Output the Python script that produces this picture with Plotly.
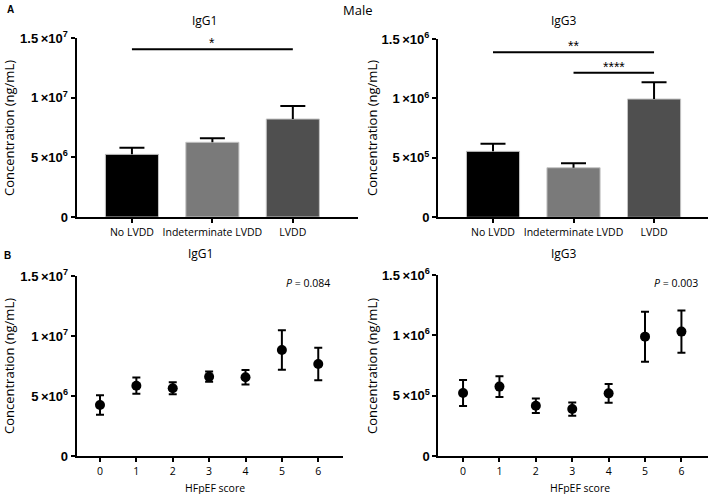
import plotly.graph_objects as go

W, H = 709, 494

# ---------------- data ----------------
groups = ["No LVDD", "Indeterminate LVDD", "LVDD"]
bar_colors = ["#000000", "#7a7a7a", "#4f4f4f"]
igg1_bar = [5.25e6, 6.26e6, 8.21e6]
igg1_bar_err = [0.56e6, 0.33e6, 1.09e6]
igg3_bar = [5.55e5, 4.17e5, 9.95e5]
igg3_bar_err = [0.64e5, 0.37e5, 1.41e5]

# significance comparisons: (from index, to index, level, label)
igg1_sig = [(0, 2, 1.405e7, "*")]
igg3_sig = [(0, 2, 1.388e6, "**"), (1, 2, 1.216e6, "****")]

scores = [0, 1, 2, 3, 4, 5, 6]
igg1_score = [4.25e6, 5.86e6, 5.64e6, 6.61e6, 6.56e6, 8.83e6, 7.67e6]
igg1_score_err = [0.82e6, 0.68e6, 0.50e6, 0.43e6, 0.61e6, 1.65e6, 1.35e6]
igg3_score = [5.22e5, 5.75e5, 4.17e5, 3.89e5, 5.19e5, 9.89e5, 1.031e6]
igg3_score_err = [1.07e5, 0.86e5, 0.60e5, 0.55e5, 0.78e5, 2.07e5, 1.75e5]

ticks7 = [0, 5e6, 1e7, 1.5e7]
ticks7_text = ["<b>0</b>", "<b>5\u2009×10<sup>6</sup></b>", "<b>1\u2009×10<sup>7</sup></b>", "<b>1.5\u2009×10<sup>7</sup></b>"]
ticks6 = [0, 5e5, 1e6, 1.5e6]
ticks6_text = ["<b>0</b>", "<b>5\u2009×10<sup>5</sup></b>", "<b>1\u2009×10<sup>6</sup></b>", "<b>1.5\u2009×10<sup>6</sup></b>"]

# ---------------- figure ----------------
fig = go.Figure()

def px_x(v):
    return v / W

def px_y(v):
    return 1 - v / H

TXT = "Open Sans"
TICKF = dict(family="Liberation Sans", size=13, color="black")


def add_bars(xa, ya, vals, errs):
    idx = list(range(len(vals)))
    fig.add_trace(go.Bar(x=idx, y=vals, width=0.66, xaxis=xa, yaxis=ya,
                         marker=dict(color=bar_colors, line=dict(color="#c4c4c4", width=1)),
                         showlegend=False))
    # error stems (upward only)
    fig.add_trace(go.Scatter(x=idx, y=[v + e / 2 for v, e in zip(vals, errs)], mode="none",
                             xaxis=xa, yaxis=ya, showlegend=False,
                             error_y=dict(type="data", array=[e / 2 for e in errs], symmetric=True,
                                          width=0, thickness=2, color="black")))
    # caps
    fig.add_trace(go.Scatter(x=idx, y=[v + e for v, e in zip(vals, errs)], mode="none",
                             xaxis=xa, yaxis=ya, showlegend=False,
                             error_y=dict(type="data", array=[0] * len(vals), symmetric=True,
                                          width=12.5, thickness=2, color="black")))


def add_points(xa, ya, vals, errs):
    fig.add_trace(go.Scatter(x=scores, y=vals, mode="markers", xaxis=xa, yaxis=ya,
                             marker=dict(color="black", size=10), showlegend=False,
                             error_y=dict(type="data", array=errs, symmetric=True,
                                          width=4, thickness=2, color="black")))


add_bars("x", "y", igg1_bar, igg1_bar_err)
add_bars("x2", "y2", igg3_bar, igg3_bar_err)
add_points("x3", "y3", igg1_score, igg1_score_err)
add_points("x4", "y4", igg3_score, igg3_score_err)

shapes = []
annotations = []
for xref, yref, sigs in [("x", "y", igg1_sig), ("x2", "y2", igg3_sig)]:
    for a, b, lvl, lab in sigs:
        shapes.append(dict(type="line", xref=xref, yref=yref, x0=a, x1=b, y0=lvl, y1=lvl,
                           line=dict(color="black", width=2)))
        annotations.append(dict(xref=xref, yref=yref, x=(a + b) / 2, y=lvl, text=lab,
                                showarrow=False, yanchor="bottom", yshift=-4,
                                font=dict(family="Liberation Sans", size=14, color="black")))

common_x = dict(showline=True, linewidth=2, linecolor="black", ticks="outside", ticklen=4,
                tickwidth=2, tickcolor="black", showgrid=False, zeroline=False, automargin=False,
                tickfont=dict(family=TXT, size=10.5, color="black"))
common_y = dict(showline=True, linewidth=2, linecolor="black", ticks="outside", ticklen=4,
                tickwidth=2, tickcolor="black", showgrid=False, zeroline=False, automargin=False,
                tickfont=TICKF)

layout = dict(
    width=W, height=H, margin=dict(l=0, r=0, t=0, b=0, pad=0, autoexpand=False),
    paper_bgcolor="white", plot_bgcolor="white", showlegend=False,
    xaxis=dict(common_x, domain=[px_x(76.5), px_x(358)], range=[-0.689, 2.81],
               tickvals=[0, 1, 2], ticktext=groups, anchor="y"),
    yaxis=dict(common_y, domain=[px_y(217), px_y(38)], range=[0, 1.5e7],
               tickvals=ticks7, ticktext=ticks7_text, anchor="x"),
    xaxis2=dict(common_x, domain=[px_x(438), px_x(708)], range=[-0.683, 2.67],
                tickvals=[0, 1, 2], ticktext=groups, anchor="y2"),
    yaxis2=dict(common_y, domain=[px_y(217.3), px_y(39)], range=[0, 1.5e6],
                tickvals=ticks6, ticktext=ticks6_text, anchor="x2"),
    xaxis3=dict(common_x, domain=[px_x(76.7), px_x(343)], range=[-0.64, 6.68],
                tickvals=scores, ticktext=[str(s) for s in scores], anchor="y3"),
    yaxis3=dict(common_y, domain=[px_y(456), px_y(276)], range=[0, 1.5e7],
                tickvals=ticks7, ticktext=ticks7_text, anchor="x3"),
    xaxis4=dict(common_x, domain=[px_x(438.3), px_x(708)], range=[-0.68, 6.73],
                tickvals=scores, ticktext=[str(s) for s in scores], anchor="y4"),
    yaxis4=dict(common_y, domain=[px_y(456), px_y(275)], range=[0, 1.5e6],
                tickvals=ticks6, ticktext=ticks6_text, anchor="x4"),
)

def paper_text(x, y, text, size, **kw):
    d = dict(xref="paper", yref="paper", x=px_x(x), y=px_y(y), text=text, showarrow=False,
             xanchor=kw.pop("xanchor", "center"), yanchor=kw.pop("yanchor", "middle"),
             font=dict(family=kw.pop("family", TXT), size=size, color="black"))
    d.update(kw)
    annotations.append(d)

paper_text(358, 10, "Male", 13)
paper_text(10, 10, "<b>A</b>", 10, family="Liberation Sans")
paper_text(7, 255, "<b>B</b>", 10, family="Liberation Sans")
paper_text(204, 20, "IgG1", 12)
paper_text(564, 20, "IgG3", 12)
paper_text(200, 253, "IgG1", 12)
paper_text(564, 254, "IgG3", 12)
paper_text(9, 128, "Concentration (ng/mL)", 13, textangle=-90)
paper_text(372, 128, "Concentration (ng/mL)", 13, textangle=-90)
paper_text(9, 366, "Concentration (ng/mL)", 13, textangle=-90)
paper_text(372, 366, "Concentration (ng/mL)", 13, textangle=-90)
paper_text(215, 488, "HFpEF score", 10.5)
paper_text(580, 488, "HFpEF score", 10.5)
paper_text(332, 283, "<i>P</i> = 0.084", 10.5, xanchor="right")
paper_text(700, 283, "<i>P</i> = 0.003", 10.5, xanchor="right")

layout["shapes"] = shapes
layout["annotations"] = annotations
fig.update_layout(**layout)

# remove the browser's default page margin so the 709x494 figure fills the window exactly
fig.write_html("out.html", config={"displayModeBar": False},
               post_script="document.body.style.margin='0';document.body.style.overflow='hidden';")
